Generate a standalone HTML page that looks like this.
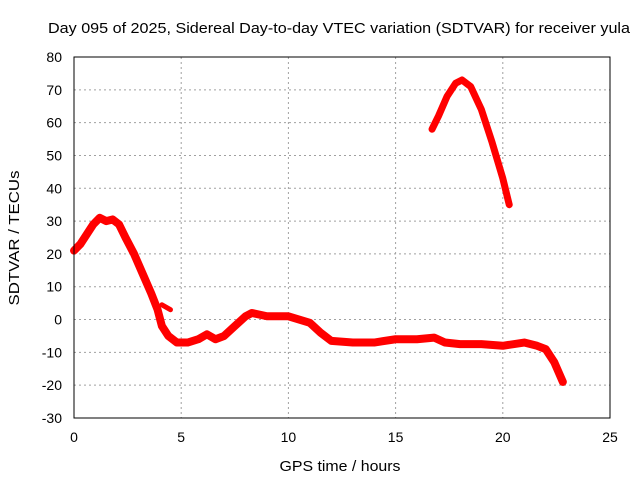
<!DOCTYPE html>
<html><head><meta charset="utf-8"><style>
body{margin:0;background:#fff;}
svg{display:block;font-family:"Liberation Sans",sans-serif;}
</style></head><body>
<svg id="chart" width="640" height="480">
<text x="339" y="33" font-size="15" text-anchor="middle" textLength="582" lengthAdjust="spacingAndGlyphs">Day 095 of 2025, Sidereal Day-to-day VTEC variation (SDTVAR) for receiver yula</text>
<text x="340" y="471" font-size="15" text-anchor="middle" textLength="121" lengthAdjust="spacingAndGlyphs">GPS time / hours</text>
<text x="0" y="0" font-size="15" text-anchor="middle" textLength="135" lengthAdjust="spacingAndGlyphs" transform="translate(19,238) rotate(-90)">SDTVAR / TECUs</text>
<g id="grid"></g><g id="ticks"></g><g id="series"></g>
<rect x="74" y="57" width="536" height="361" fill="none" stroke="#000" stroke-width="1"/>
</svg>
<script>
const xTicks=[0,5,10,15,20,25];
const yTicks=[-30,-20,-10,0,10,20,30,40,50,60,70,80];
const mainHours=[0,0.3,0.6,0.9,1.2,1.5,1.8,2.1,2.4,2.8,3.2,3.6,3.9,4.1,4.4,4.8,5.3,5.8,6.2,6.6,7.0,7.5,8.0,8.3,9,10,10.5,11,11.5,12,13,14,15,16,16.8,17.3,18,19,20,21,21.6,22,22.4,22.8];
const mainValues=[21,23,26,29,31,30,30.5,29,25,20,14,8,3,-2,-5,-7,-7,-6,-4.5,-6,-5,-2,1,2,1,1,0,-1,-4,-6.5,-7,-7,-6,-6,-5.5,-7,-7.5,-7.5,-8,-7,-8,-9,-13,-19];
const blobHours=[4.1,4.5];
const blobValues=[4.5,3];
const peakHours=[16.7,17,17.4,17.8,18.1,18.5,19,19.5,20,20.3];
const peakValues=[58,62,68,72,73,71,64,54,43,35];
const X=h=>74+h*(536/25);
const Y=v=>418-(v+30)*(361/110);
const NS="http://www.w3.org/2000/svg";
const grid=document.getElementById('grid'),ticks=document.getElementById('ticks'),ser=document.getElementById('series');
function mk(t,a,p){const e=document.createElementNS(NS,t);for(const k in a)e.setAttribute(k,a[k]);p.appendChild(e);return e;}
xTicks.forEach(t=>{
 if(t>0&&t<25){const g=mk('line',{x1:X(t),x2:X(t),y1:57,y2:418,stroke:'#a0a0a0','stroke-dasharray':'2,3'},grid);
 
 }
 const l=mk('text',{x:X(t),y:442,'font-size':14,'text-anchor':'middle'},ticks);l.textContent=t;
 
 
});
yTicks.forEach(t=>{
 if(t>-30&&t<80){const g=mk('line',{x1:74,x2:610,y1:Y(t),y2:Y(t),stroke:'#a0a0a0','stroke-dasharray':'2,3'},grid);
 
 }
 const l=mk('text',{x:62,y:Y(t)+5,'font-size':14,'text-anchor':'end'},ticks);l.textContent=t;
 
 
});
function trace(hs,vs,name,w){
 const p=mk('polyline',{points:hs.map((h,i)=>X(h)+','+Y(vs[i])).join(' '),fill:'none',stroke:'#ff0000','stroke-width':w,'stroke-linejoin':'round','stroke-linecap':'round'},ser);
 
 
}
trace(mainHours,mainValues,'sdtvar-main-trace',8);
trace(blobHours,blobValues,'sdtvar-fragment',5);
trace(peakHours,peakValues,'sdtvar-peak-trace',7);
</script>
</body></html>
